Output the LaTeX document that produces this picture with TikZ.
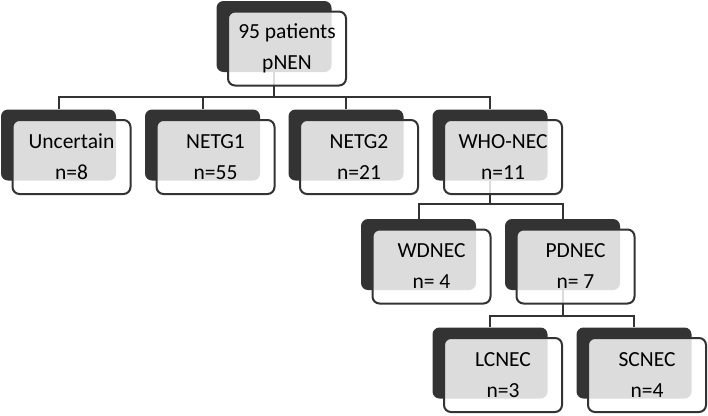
\documentclass[tikz,border=0pt]{standalone}
\usepackage{fontspec}
\setmainfont{Carlito}
\usepackage{tikz}
\usetikzlibrary{backgrounds}

\definecolor{boxdark}{HTML}{333333}

\tikzset{
  back/.style={draw=none, fill=boxdark, rounded corners=7pt,
    minimum width=115pt, minimum height=71pt, inner sep=0pt},
  front/.style={draw=boxdark, line width=2pt, fill=white, fill opacity=0.83,
    text opacity=1, rounded corners=7pt, minimum width=118pt, minimum height=74pt,
    inner sep=0pt, align=center, font=\fontsize{21.5}{31}\selectfont},
  conn/.style={draw=boxdark, line width=2pt}
}

\begin{document}
\begin{tikzpicture}[x=1pt,y=-1pt]
\useasboundingbox (0,0) rectangle (708,415);

% boxes: dark back plate, then see-through front card
\foreach \nm/\x/\y/\txt in {top/274/36.5/{95 patients\\pNEN},
    unc/58.5/145/{Uncertain\\n=8}, netgA/202.5/145/{NETG1\\n=55},
    netgB/346/145/{NETG2\\n=21}, who/490/145/{WHO-NEC\\n=11},
    wd/418.5/254.5/{WDNEC\\n= 4}, pd/562.5/254.5/{PDNEC\\n= 7},
    lc/490/363/{LCNEC\\n=3}, sc/634/363/{SCNEC\\n=4}}{
  \node[back] (\nm) at (\x,\y) {};
  \node[front] (\nm-f) at ([shift={(13,12)}]\nm.center) {\txt};
}

% connectors behind the cards
\begin{scope}[on background layer]
\draw[conn] (top.south) -- ++(0,25) coordinate (busA);
\draw[conn] (unc.north) |- (busA) -| (who.north);
\draw[conn] (netgA.north) -- (netgA.north |- busA);
\draw[conn] (netgB.north) -- (netgB.north |- busA);

\draw[conn] (who.south) -- ++(0,23) coordinate (busB);
\draw[conn] (wd.north) |- (busB) -| (pd.north);

\draw[conn] (pd.south) -- ++(0,26) coordinate (busC);
\draw[conn] (lc.north) |- (busC) -| (sc.north);
\end{scope}

\end{tikzpicture}
\end{document}
